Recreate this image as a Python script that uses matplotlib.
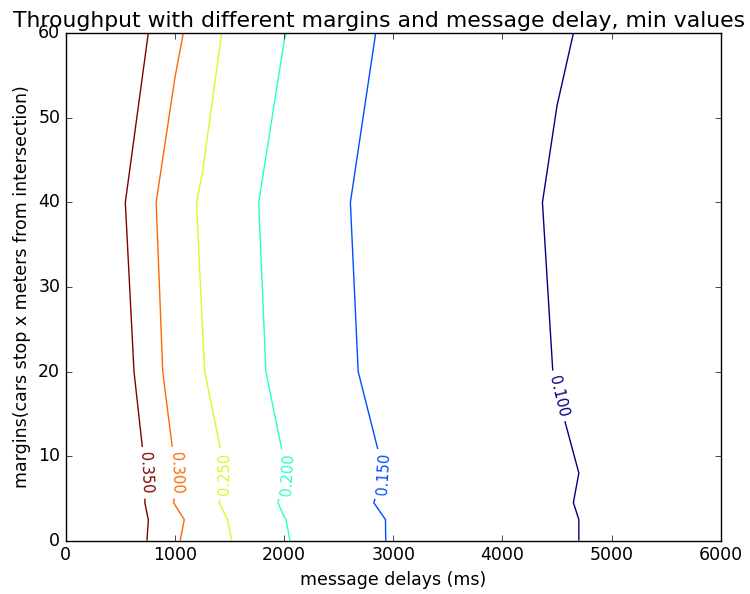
import numpy as np
import matplotlib
matplotlib.use("Agg")
import matplotlib.pyplot as plt

# message delays (ms) and margins (m)
delays = [0, 250, 500, 750, 1000, 1250, 1500, 2000, 2500, 3000, 3500, 4000, 4500, 5000, 5500, 6000]
margins = [0, 2.5, 4.5, 8, 20, 40, 60]

# minimum throughput, one row per margin
thr_m0 = [0.470, 0.430, 0.389, 0.349, 0.305, 0.279, 0.252, 0.203, 0.175, 0.146, 0.134, 0.120, 0.104, 0.094, 0.084, 0.074]
thr_m2 = [0.466, 0.428, 0.390, 0.351, 0.313, 0.275, 0.248, 0.201, 0.174, 0.146, 0.134, 0.120, 0.104, 0.094, 0.084, 0.074]
thr_m4 = [0.493, 0.444, 0.394, 0.345, 0.298, 0.268, 0.239, 0.195, 0.168, 0.140, 0.132, 0.118, 0.103, 0.093, 0.083, 0.073]
thr_m8 = [0.481, 0.436, 0.391, 0.346, 0.301, 0.272, 0.246, 0.202, 0.174, 0.145, 0.134, 0.120, 0.104, 0.094, 0.084, 0.074]
thr_m20 = [0.468, 0.421, 0.374, 0.326, 0.279, 0.252, 0.230, 0.185, 0.155, 0.141, 0.126, 0.112, 0.099, 0.089, 0.079, 0.069]
thr_m40 = [0.447, 0.403, 0.358, 0.314, 0.269, 0.245, 0.223, 0.180, 0.153, 0.139, 0.125, 0.111, 0.096, 0.087, 0.077, 0.067]
thr_m60 = [0.470, 0.430, 0.390, 0.351, 0.311, 0.275, 0.240, 0.201, 0.171, 0.140, 0.132, 0.118, 0.103, 0.093, 0.083, 0.073]

levels = [0.10, 0.15, 0.20, 0.25, 0.30, 0.35]

plt.style.use('classic')
plt.rcParams['font.size'] = 12.5
fig = plt.figure(figsize=(7.5, 5.94), dpi=100)
ax = fig.add_subplot(111)
fig.subplots_adjust(left=0.0877, right=0.961, bottom=0.0897, top=0.944)

Z = np.array([thr_m0, thr_m2, thr_m4, thr_m8, thr_m20, thr_m40, thr_m60])
X, Y = np.meshgrid(delays, margins)
cs = ax.contour(X, Y, Z, levels=levels, cmap='jet', linewidths=1.0)

# where the labels sit
label_pos = [(4480, 17), (2880, 8), (2000, 8), (1430, 8), (985, 8), (700, 8)]
ax.clabel(cs, fmt='%.3f', fontsize=10.5, inline=True, manual=label_pos)

fig.text(0.505, 0.954, 'Throughput with different margins and message delay, min values',
         ha='center', va='baseline', fontsize=15.75)
ax.set_xlabel('message delays (ms)')
ax.set_ylabel('margins(cars stop x meters from intersection)')
ax.set_xlim(0, 6000)
ax.set_ylim(0, 60)

fig.savefig('out.png', dpi=100)
